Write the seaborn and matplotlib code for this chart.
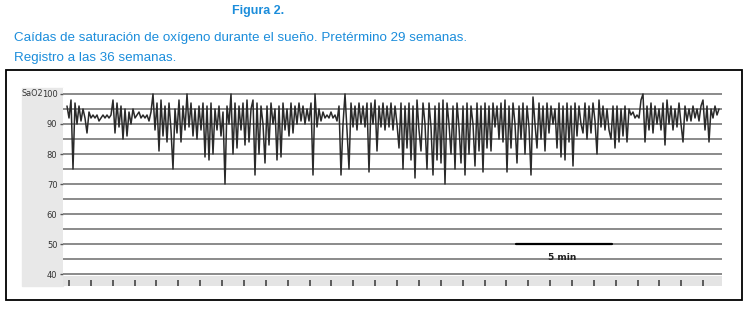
import numpy as np
import matplotlib
matplotlib.use("Agg")
import matplotlib.pyplot as plt
from matplotlib.patches import Rectangle
import seaborn as sns

# SaO2 trace, one reading every 1/9.6 min (left to right)
sao2 = [
    96, 92, 98, 75, 97, 90, 96, 91, 95, 92,
    87, 94, 92, 93, 92, 93, 91, 92, 93, 92,
    93, 92, 93, 98, 87, 97, 89, 96, 85, 95,
    86, 94, 90, 95, 92, 93, 94, 92, 93, 92,
    93, 91, 94, 100, 88, 97, 81, 98, 86, 96,
    84, 97, 88, 75, 95, 87, 98, 84, 96, 88,
    100, 89, 97, 86, 95, 85, 96, 88, 97, 79,
    96, 78, 97, 80, 95, 88, 96, 86, 94, 70,
    96, 90, 100, 80, 97, 82, 96, 88, 97, 83,
    98, 84, 95, 98, 73, 97, 80, 96, 90, 77,
    96, 83, 97, 90, 95, 78, 96, 79, 97, 88,
    95, 86, 97, 87, 96, 90, 97, 91, 96, 90,
    95, 91, 97, 73, 100, 89, 95, 91, 94, 92,
    93, 92, 94, 92, 93, 91, 96, 73, 90, 100,
    88, 75, 97, 89, 96, 88, 97, 90, 96, 89,
    97, 74, 97, 90, 98, 81, 96, 89, 97, 88,
    96, 89, 97, 88, 96, 90, 82, 97, 75, 96,
    82, 97, 78, 96, 72, 98, 88, 81, 97, 90,
    75, 97, 89, 73, 96, 78, 97, 77, 98, 70,
    97, 90, 80, 96, 75, 97, 89, 77, 96, 73,
    97, 80, 96, 90, 76, 97, 81, 96, 74, 97,
    82, 96, 81, 97, 89, 96, 85, 97, 84, 98,
    74, 96, 82, 97, 90, 77, 96, 85, 97, 80,
    96, 89, 73, 99, 90, 82, 97, 85, 96, 81,
    97, 87, 96, 90, 95, 82, 97, 79, 96, 78,
    97, 84, 96, 76, 97, 86, 96, 90, 87, 97,
    85, 96, 87, 97, 91, 80, 98, 89, 96, 88,
    95, 88, 85, 96, 82, 96, 84, 95, 86, 96,
    84, 95, 93, 94, 92, 93, 92, 98, 100, 84,
    96, 88, 97, 87, 96, 90, 95, 88, 97, 83,
    98, 90, 96, 88, 95, 89, 97, 90, 84, 96,
    91, 95, 91, 96, 92, 95, 91, 96, 98, 88,
    96, 84, 95, 92, 96, 93, 95,
]
minutes = np.arange(len(sao2)) / 9.6

y_ticks = [40, 50, 60, 70, 80, 90, 100]
grid_levels = list(range(40, 101, 5))
scale_bar = [23.4, 28.4]  # 5 min
scale_label = "5 min"

title = "Figura 2."
subtitle = ["Caídas de saturación de oxígeno durante el sueño. Pretérmino 29 semanas.",
            "Registro a las 36 semanas."]
BLUE = "#1b8ddb"

sns.set_style("white")
plt.rcParams["font.family"] = ["Liberation Sans", "DejaVu Sans"]

W, H = 751, 309
fig = plt.figure(figsize=(W / 100, H / 100), dpi=100)

def fx(px):
    return px / W

def fy(py):
    return 1 - py / H

ax = fig.add_axes([fx(63), fy(286), fx(722 - 63), (286 - 88) / H])

# left grey band + frame
fig.patches.append(Rectangle((fx(22), fy(286)), fx(63 - 22), (286 - 88) / H,
                             transform=fig.transFigure, color="#e8e8e8", zorder=-1))
fig.patches.append(Rectangle((fx(6), fy(300)), fx(742 - 6), (300 - 70) / H,
                             transform=fig.transFigure, fill=False,
                             edgecolor="black", linewidth=1.3, zorder=5))

ax.axhspan(36, 39.3, color="#e4e4e4", zorder=0, lw=0)
for lvl in grid_levels:
    ax.axhline(lvl, color="#8a8a8a", lw=1.4, zorder=1)

sns.lineplot(x=minutes, y=sao2, ax=ax, color="#2a2a2a", lw=1.1,
             estimator=None, zorder=3)

ax.plot(scale_bar, [50, 50], color="black", lw=1.6, zorder=4)
ax.text(np.mean(scale_bar) - 0.1, 45.5, scale_label, ha="center", va="center",
        fontsize=6.5, fontweight="bold", color="#222222", family="DejaVu Sans")

ax.set_xlim(-4 / 19.2, 655 / 19.2)
ax.set_ylim(36, 102)
ax.set_yticks(y_ticks)
ax.set_yticklabels([str(v) for v in y_ticks], fontsize=6, color="#333333",
                   family="DejaVu Sans")
ax.set_xticks(0.104 + 1.139 * np.arange(30))
ax.set_xticklabels([])
ax.tick_params(axis="y", length=2.5, width=1, color="#555555", pad=1.5, left=True)
ax.tick_params(axis="x", direction="in", length=4, width=1.2, color="#444444",
               bottom=True)
ax.set_xlabel("")
ax.set_ylabel("")
for s in ax.spines.values():
    s.set_visible(False)

fig.text(fx(21), fy(94), "SaO2", fontsize=5.8, color="#333333", va="center",
         family="DejaVu Sans")

fig.text(fx(258), fy(14), title, ha="center", va="baseline", fontsize=9,
         fontweight="bold", color=BLUE)
fig.text(fx(14), fy(41), subtitle[0], ha="left", va="baseline", fontsize=9.6,
         color=BLUE)
fig.text(fx(14), fy(61), subtitle[1], ha="left", va="baseline", fontsize=9.6,
         color=BLUE)

fig.savefig("out.png", dpi=100)
